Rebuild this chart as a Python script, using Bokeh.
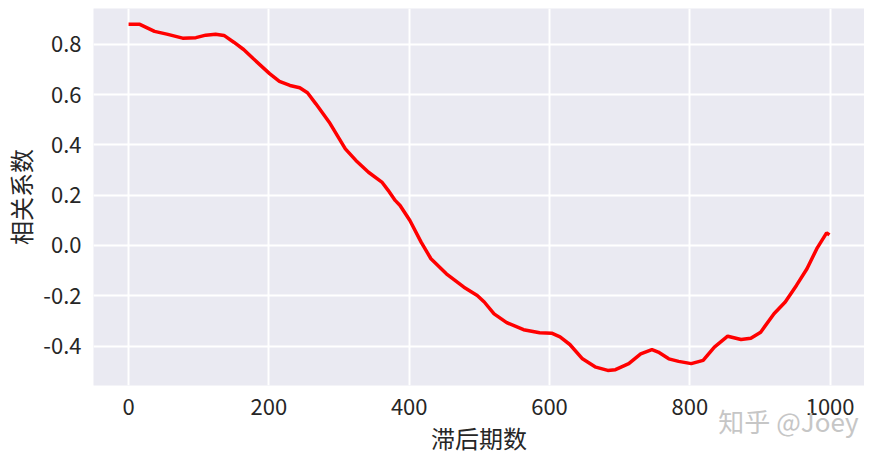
from bokeh.plotting import figure
from bokeh.models import Range1d, FixedTicker, PrintfTickFormatter, Title
from bokeh.embed import file_html
from bokeh.resources import INLINE

# lag (x) and correlation coefficient (y)
lags = [0, 16, 37, 56, 77, 96, 110, 124, 136, 150, 164, 178, 201, 215, 230, 244,
        255, 267, 286, 309, 324, 342, 361, 370, 380, 387, 401, 417, 431, 453, 478,
        497, 507, 521, 539, 563, 586, 603, 615, 629, 647, 666, 683, 694, 713, 730,
        746, 755, 770, 784, 802, 819, 835, 854, 873, 887, 901, 920, 936, 952, 967,
        981, 995, 999]
corr = [0.879, 0.879, 0.851, 0.839, 0.824, 0.826, 0.836, 0.840, 0.835, 0.808,
        0.779, 0.742, 0.683, 0.652, 0.636, 0.627, 0.607, 0.563, 0.490, 0.384,
        0.338, 0.291, 0.252, 0.219, 0.179, 0.159, 0.099, 0.013, -0.053, -0.113,
        -0.166, -0.199, -0.225, -0.272, -0.307, -0.335, -0.347, -0.349, -0.364,
        -0.394, -0.451, -0.484, -0.497, -0.494, -0.470, -0.431, -0.414, -0.424,
        -0.451, -0.461, -0.470, -0.457, -0.404, -0.361, -0.374, -0.369, -0.345,
        -0.272, -0.225, -0.159, -0.093, -0.013, 0.050, 0.042]

x_ticks = [0, 200, 400, 600, 800, 1000]
y_ticks = [-0.4, -0.2, 0.0, 0.2, 0.4, 0.6, 0.8]
x_label = "滞后期数"
y_label = "相关系数"
watermark = "知乎 @Joey"

FONT = "Noto Sans CJK SC"

p = figure(width=864, height=457, output_backend="svg", toolbar_location=None,
           x_range=Range1d(-50, 1049), y_range=Range1d(-0.557, 0.942),
           min_border_left=86, min_border_right=0, min_border_top=8,
           min_border_bottom=0)

p.background_fill_color = "#EAEAF2"
p.border_fill_color = "white"
p.outline_line_color = None

for g in (p.xgrid, p.ygrid):
    g.grid_line_color = "white"
    g.grid_line_width = 2

p.line(lags, corr, line_color="#ff0000", line_width=3.5)

p.xaxis.ticker = FixedTicker(ticks=x_ticks)
p.yaxis.ticker = FixedTicker(ticks=y_ticks)
p.yaxis.formatter = PrintfTickFormatter(format="%.1f")

for ax in (p.xaxis, p.yaxis):
    ax.axis_line_color = None
    ax.major_tick_line_color = None
    ax.minor_tick_line_color = None
    ax.major_tick_out = 0
    ax.major_tick_in = 0
    ax.minor_tick_out = 0
    ax.major_label_text_font = FONT
    ax.major_label_text_font_size = "22px"
    ax.major_label_text_color = "#262626"
    ax.axis_label_text_font = FONT
    ax.axis_label_text_font_size = "24px"
    ax.axis_label_text_font_style = "normal"
    ax.axis_label_text_color = "#262626"

p.xaxis.axis_label = x_label
p.yaxis.axis_label = y_label
p.xaxis.major_label_standoff = 13
p.yaxis.major_label_standoff = 12
p.xaxis.axis_label_standoff = 2
p.yaxis.axis_label_standoff = 2

wm = Title(text=watermark, align="right", offset=6, standoff=-112,
           vertical_align="top",
           text_font=FONT, text_font_size="26px", text_font_style="normal",
           text_color="#c6c6c6")
p.add_layout(wm, "below")

open("out.html", "w").write(file_html(p, INLINE))
